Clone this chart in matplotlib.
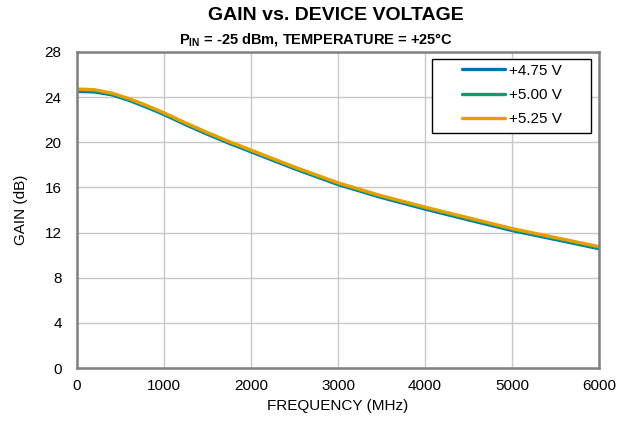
import matplotlib
matplotlib.use("Agg")
import matplotlib.pyplot as plt
from matplotlib.patches import Rectangle

plt.rcParams['font.family'] = ['Liberation Sans', 'DejaVu Sans']
plt.rcParams['mathtext.fontset'] = 'custom'
plt.rcParams['mathtext.rm'] = 'Liberation Sans'
plt.rcParams['mathtext.bf'] = 'Liberation Sans:bold'

freq = [10, 200, 400, 600, 800, 1000, 1250, 1500, 1750, 2000, 2500, 3000,
        3500, 4000, 4500, 5000, 5500, 6000]
gain_475 = [24.50, 24.45, 24.20, 23.70, 23.10, 22.45, 21.55, 20.70, 19.90, 19.15,
            17.65, 16.25, 15.10, 14.08, 13.12, 12.18, 11.38, 10.57]
gain_500 = [24.60, 24.55, 24.28, 23.78, 23.18, 22.53, 21.63, 20.78, 19.98, 19.23,
            17.73, 16.33, 15.18, 14.17, 13.21, 12.27, 11.47, 10.66]
gain_525 = [24.70, 24.65, 24.35, 23.85, 23.25, 22.60, 21.70, 20.85, 20.05, 19.30,
            17.80, 16.40, 15.25, 14.25, 13.30, 12.35, 11.55, 10.75]
labels = ['+4.75 V', '+5.00 V', '+5.25 V']
colors = ['#0072B2', '#009E73', '#E69F00']

xticks = [0, 1000, 2000, 3000, 4000, 5000, 6000]
yticks = [0, 4, 8, 12, 16, 20, 24, 28]

fig = plt.figure(figsize=(6.26, 4.25), dpi=100)
ax = fig.add_axes([0.123, 0.134, 0.834, 0.744])

for g, lab, c in zip([gain_475, gain_500, gain_525], labels, colors):
    ax.plot(freq, g, color=c, lw=2.4, label=lab, solid_capstyle='round')

ax.set_xlim(0, 6000)
ax.set_ylim(0, 28)
ax.set_xticks(xticks)
ax.set_yticks(yticks)
ax.tick_params(length=0, labelsize=11)
ax.tick_params(axis='x', pad=8)
ax.tick_params(axis='y', pad=11)
ax.grid(True, color='#c8c8c8', lw=1)
ax.set_axisbelow(True)
for s in ax.spines.values():
    s.set_color('#808080')
    s.set_linewidth(1.8)

ax.set_xlabel('FREQUENCY (MHz)', fontsize=11, labelpad=4)
ax.set_ylabel('GAIN (dB)', fontsize=11, labelpad=12)

fig.text(0.537, 0.9635, 'GAIN vs. DEVICE VOLTAGE', ha='center', va='center',
         fontsize=14, fontweight='bold')
fig.text(0.504, 0.906, r'$\mathbf{P_{IN}}$ = -25 dBm, TEMPERATURE = +25°C',
         ha='center', va='center', fontsize=10.5, fontweight='bold')

# legend frame
ax.add_patch(Rectangle((0.680, 0.744), 0.305, 0.234, transform=ax.transAxes,
                       facecolor='white', edgecolor='black', lw=1.0, zorder=4))
leg = ax.legend(loc='upper left', bbox_to_anchor=(0.7375, 0.963), fontsize=11,
                frameon=False, handlelength=2.8, handletextpad=0.3, borderpad=0,
                labelspacing=0.68, borderaxespad=0)
leg.set_zorder(5)
for h in leg.get_lines():
    h.set_linewidth(2.4)

fig.savefig('out.png', dpi=100)
